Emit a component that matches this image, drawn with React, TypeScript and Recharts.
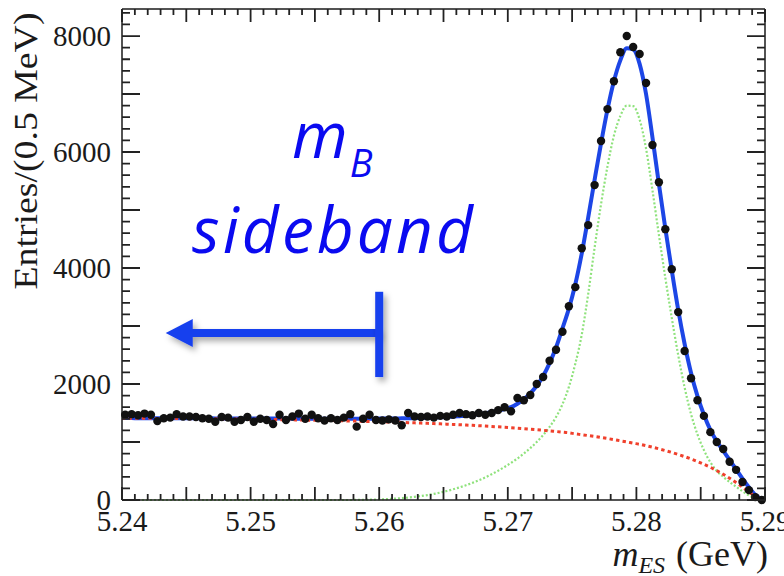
import { ComposedChart, Line, Scatter, XAxis, YAxis, ReferenceLine } from "recharts";

const X_MIN = 5.24;
const X_MAX = 5.29;
const Y_MAX = 8466;
const BIN_WIDTH = 0.0005; // 0.5 MeV

const X_LABELS = [5.24, 5.25, 5.26, 5.27, 5.28, 5.29];
const Y_LABELS = [0, 2000, 4000, 6000, 8000];

// ticks toutes les 1 MeV et 200 entrées (les grandes tous les 5 MeV / 1000)
const X_TICKS = Array.from({ length: 51 }, (_, i) => +(X_MIN + i * 0.001).toFixed(3));
const Y_TICKS = Array.from({ length: 43 }, (_, i) => i * 200);

// données (100 bins de 0.5 MeV)
const ENTRIES = [
  1470, 1480, 1460, 1490, 1470, 1360, 1410, 1420, 1480, 1440,
  1440, 1430, 1410, 1400, 1350, 1430, 1420, 1350, 1380, 1430,
  1350, 1400, 1380, 1310, 1470, 1380, 1440, 1490, 1400, 1470,
  1410, 1370, 1410, 1380, 1420, 1480, 1265, 1400, 1470, 1380,
  1370, 1390, 1370, 1290, 1500, 1440, 1430, 1440, 1420, 1450,
  1440, 1470, 1500, 1480, 1460, 1500, 1470, 1500, 1550, 1600,
  1530, 1760, 1720, 1810, 2000, 2120, 2400, 2590, 2900, 3340,
  3670, 4340, 4740, 5430, 6190, 6740, 7220, 7720, 8000, 7810,
  7690, 7190, 6120, 5480, 4670, 3980, 3240, 2570, 2100, 1720,
  1450, 1170, 1000, 880, 660, 520, 310, 170, 50, 0,
];

// ajustement total (bleu), aux centres des bins
const TOTAL_FIT = [
  1412, 1412, 1411, 1411, 1411, 1410, 1410, 1410, 1409, 1409,
  1409, 1408, 1408, 1408, 1407, 1407, 1407, 1406, 1406, 1406,
  1405, 1405, 1405, 1404, 1404, 1404, 1403, 1403, 1403, 1403,
  1402, 1402, 1402, 1402, 1402, 1402, 1402, 1402, 1403, 1403,
  1404, 1405, 1406, 1408, 1410, 1412, 1415, 1418, 1422, 1427,
  1432, 1438, 1445, 1453, 1466, 1480, 1495, 1515, 1540, 1568,
  1600, 1660, 1740, 1840, 1970, 2140, 2360, 2630, 2960, 3300,
  3720, 4250, 4870, 5520, 6150, 6730, 7220, 7580, 7790, 7770,
  7520, 7000, 6250, 5450, 4680, 3960, 3280, 2690, 2190, 1790,
  1470, 1210, 1010, 850, 690, 530, 370, 220, 90, 10,
];

// fond combinatoire (rouge, type ARGUS)
const BKG_FIT = [
  1410, 1410, 1409, 1409, 1408, 1407, 1407, 1406, 1405, 1404,
  1403, 1402, 1401, 1400, 1399, 1398, 1397, 1396, 1395, 1394,
  1392, 1391, 1389, 1388, 1386, 1384, 1382, 1380, 1378, 1376,
  1374, 1372, 1370, 1367, 1365, 1362, 1360, 1357, 1354, 1351,
  1348, 1345, 1341, 1338, 1334, 1330, 1326, 1322, 1318, 1313,
  1308, 1303, 1298, 1293, 1287, 1281, 1275, 1268, 1261, 1254,
  1246, 1238, 1230, 1221, 1212, 1202, 1192, 1181, 1170, 1158,
  1140, 1126, 1111, 1095, 1078, 1060, 1041, 1021, 1001, 980,
  960, 936, 910, 882, 852, 820, 785, 748, 708, 664,
  616, 564, 506, 443, 374, 300, 222, 140, 64, 8,
];

// signal (vert)
const SIG_FIT = [
  0, 0, 0, 0, 0, 0, 0, 0, 0, 0,
  0, 0, 0, 0, 0, 0, 0, 0, 0, 0,
  0, 0, 0, 0, 0, 0, 0, 0, 0, 0,
  0, 0, 0, 0, 0, 0, 2, 4, 6, 9,
  13, 18, 24, 32, 42, 54, 68, 85, 105, 128,
  155, 185, 218, 255, 295, 340, 390, 445, 505, 570,
  640, 715, 800, 895, 1000, 1120, 1260, 1430, 1650, 1950,
  2350, 2850, 3550, 4350, 5100, 5750, 6280, 6620, 6800, 6790,
  6560, 6060, 5340, 4570, 3830, 3140, 2500, 1940, 1480, 1130,
  860, 650, 500, 400, 310, 230, 150, 80, 28, 3,
];
// valeurs des courbes aux bords 5.24 / 5.29
const TOTAL_EDGES = [1412, 0];
const BKG_EDGES = [1411, 0];
const SIG_EDGES = [0, 0];

// flèche "sideband"
const SIDEBAND_EDGE = 5.26;
const ARROW_TIP = 5.2434;
const ARROW_Y = 2880;
const BAR_RANGE = [2120, 3590];

const ARROW_COLOR = "#1840ee";
const TEXT_BLUE = "#0a0af0";
const INK = "#1a1a1a";
const SERIF = "'Liberation Serif', 'DejaVu Serif', serif";

// cadre du tracé (marges du ComposedChart)
const W = 784;
const H = 576;
const MARGIN = { top: 8, right: 18, bottom: 0, left: 0 };
const Y_AXIS_W = 122;
const X_AXIS_H = 76;
const PLOT = {
  left: MARGIN.left + Y_AXIS_W,
  right: W - MARGIN.right - 1,
  top: MARGIN.top + 1,
  bottom: H - MARGIN.bottom - X_AXIS_H,
};
const px = (v: number) => PLOT.left + ((v - X_MIN) / (X_MAX - X_MIN)) * (PLOT.right - PLOT.left);
const py = (v: number) => PLOT.bottom - (v / Y_MAX) * (PLOT.bottom - PLOT.top);

const binCenters = ENTRIES.map((_, i) => +(X_MIN + BIN_WIDTH * (i + 0.5)).toFixed(5));
const points = ENTRIES.map((v, i) => ({ x: binCenters[i], y: v }));
const curveX = [X_MIN, ...binCenters, X_MAX];
const curves = curveX.map((x, i) => ({
  x,
  total: [TOTAL_EDGES[0], ...TOTAL_FIT, TOTAL_EDGES[1]][i],
  bkg: [BKG_EDGES[0], ...BKG_FIT, BKG_EDGES[1]][i],
  sig: [SIG_EDGES[0], ...SIG_FIT, SIG_EDGES[1]][i],
}));

const isMul = (v: number, step: number) => Math.abs(v / step - Math.round(v / step)) < 1e-6;

function BottomLabel({ x, y, payload }: any) {
  return (
    <text x={x} y={y + 31} textAnchor="middle" fontFamily={SERIF} fontSize={29} fill={INK}>
      {payload.value.toFixed(2)}
    </text>
  );
}

function LeftLabel({ x, y, payload }: any) {
  return (
    <text x={x - 11} y={y} dy="0.36em" textAnchor="end" fontFamily={SERIF} fontSize={29} fill={INK}>
      {payload.value}
    </text>
  );
}

// filtre en unités absolues : une ligne verticale a une bbox de largeur nulle
function ShadowDefs({ id }: { id: string }) {
  return (
    <defs>
      <filter id={id} filterUnits="userSpaceOnUse" x="0" y="0" width="784" height="576">
        <feDropShadow dx="3" dy="4" stdDeviation="3" floodColor="#000" floodOpacity="0.35" />
      </filter>
    </defs>
  );
}

function ArrowShape(props: any) {
  const { x1, y1, x2, y2 } = props;
  const dir = x2 < x1 ? -1 : 1;
  const headLen = 27;
  const headHalf = 14;
  const baseX = x2 - dir * headLen;
  return (
    <g>
      <ShadowDefs id="arrowShadow" />
      <g filter="url(#arrowShadow)">
        <path d={`M${x1},${y1}H${baseX + dir * 2}`} stroke={ARROW_COLOR} strokeWidth={8} fill="none" />
        <polygon
          points={`${x2},${y2} ${baseX},${y2 - headHalf} ${baseX},${y2 + headHalf}`}
          fill={ARROW_COLOR}
        />
      </g>
    </g>
  );
}

function BarShape(props: any) {
  const { x1, y1, y2 } = props;
  return (
    <g>
      <ShadowDefs id="barShadow" />
      <rect
        x={x1 - 4}
        y={Math.min(y1, y2)}
        width={8}
        height={Math.abs(y2 - y1)}
        fill={ARROW_COLOR}
        filter="url(#barShadow)"
      />
    </g>
  );
}

// traits intérieurs sur les quatre côtés du cadre
function FrameTicks() {
  const segs: string[] = [];
  X_TICKS.forEach((v) => {
    const len = isMul(v, 0.005) ? 13 : 6;
    const x = px(v);
    segs.push(`M${x},${PLOT.bottom}V${PLOT.bottom - len}`, `M${x},${PLOT.top}V${PLOT.top + len}`);
  });
  Y_TICKS.forEach((v) => {
    const len = isMul(v, 1000) ? 18 : 8;
    const y = py(v);
    segs.push(`M${PLOT.left},${y}H${PLOT.left + len}`, `M${PLOT.right},${y}H${PLOT.right - len}`);
  });
  return <path d={segs.join("")} stroke="#222" strokeWidth={1.8} fill="none" />;
}

export default function App() {
  return (
    <div style={{ position: "absolute", left: 0, top: 0, width: W, height: H, background: "#fff" }}>
      <ComposedChart width={W} height={H} margin={MARGIN}>
        <XAxis
          xAxisId="b"
          type="number"
          dataKey="x"
          domain={[X_MIN, X_MAX]}
          ticks={X_LABELS}
          interval={0}
          height={X_AXIS_H}
          tickSize={0}
          tickMargin={0}
          tickLine={false}
          axisLine={{ stroke: INK, strokeWidth: 1.5 }}
          tick={BottomLabel}
        />
        <XAxis
          xAxisId="t"
          orientation="top"
          type="number"
          dataKey="x"
          domain={[X_MIN, X_MAX]}
          ticks={X_LABELS}
          height={1}
          tickLine={false}
          tick={false}
          axisLine={{ stroke: INK, strokeWidth: 1.5 }}
        />
        <YAxis
          yAxisId="l"
          type="number"
          domain={[0, Y_MAX]}
          ticks={Y_LABELS}
          interval={0}
          width={Y_AXIS_W}
          tickSize={0}
          tickMargin={0}
          tickLine={false}
          axisLine={{ stroke: INK, strokeWidth: 1.5 }}
          tick={LeftLabel}
        />
        <YAxis
          yAxisId="r"
          orientation="right"
          type="number"
          domain={[0, Y_MAX]}
          ticks={Y_LABELS}
          width={1}
          tickLine={false}
          tick={false}
          axisLine={{ stroke: INK, strokeWidth: 1.5 }}
        />

        <Line
          xAxisId="b"
          yAxisId="l"
          data={curves}
          dataKey="sig"
          type="monotone"
          stroke="#8fe27c"
          strokeWidth={2.2}
          strokeDasharray="2 2"
          dot={false}
          activeDot={false}
          isAnimationActive={false}
        />
        <Line
          xAxisId="b"
          yAxisId="l"
          data={curves}
          dataKey="total"
          type="monotone"
          stroke="#1d46e6"
          strokeWidth={4}
          dot={false}
          activeDot={false}
          isAnimationActive={false}
        />
        <Scatter
          xAxisId="b"
          yAxisId="l"
          data={points}
          dataKey="y"
          fill="#111"
          shape={(p: any) => <circle cx={p.cx} cy={p.cy} r={4.2} fill="#111" />}
          isAnimationActive={false}
        />
        <Line
          xAxisId="b"
          yAxisId="l"
          data={curves}
          dataKey="bkg"
          type="monotone"
          stroke="#f0402c"
          strokeWidth={3}
          strokeDasharray="3.4 3.2"
          dot={false}
          activeDot={false}
          isAnimationActive={false}
        />

        <ReferenceLine
          xAxisId="b"
          yAxisId="l"
          segment={[{ x: SIDEBAND_EDGE, y: ARROW_Y }, { x: ARROW_TIP, y: ARROW_Y }]}
          shape={ArrowShape}
          ifOverflow="visible"
        />
        <ReferenceLine
          xAxisId="b"
          yAxisId="l"
          segment={[{ x: SIDEBAND_EDGE, y: BAR_RANGE[0] }, { x: SIDEBAND_EDGE, y: BAR_RANGE[1] }]}
          shape={BarShape}
          ifOverflow="visible"
        />
      </ComposedChart>

      <svg width={W} height={H} style={{ position: "absolute", left: 0, top: 0, pointerEvents: "none" }}>
        <FrameTicks />
        <text
          x={37}
          y={151}
          transform="rotate(-90 37 151)"
          textAnchor="middle"
          fontFamily={SERIF}
          fontSize={33}
          fill={INK}
          textLength={277}
          lengthAdjust="spacingAndGlyphs"
        >
          Entries/(0.5 MeV)
        </text>
        <text x={768} y={566} textAnchor="end" fontFamily={SERIF} fontSize={36} fill={INK}>
          <tspan fontStyle="italic">m</tspan>
          <tspan fontStyle="italic" fontSize={24} dy={7}>ES</tspan>
          <tspan dy={-7} dx={11}>(GeV)</tspan>
        </text>
        <text x={292} y={158} fontFamily="'Open Sans', 'Noto Sans', sans-serif" fontStyle="italic" fontSize={64} fill={TEXT_BLUE}>
          m
          <tspan fontSize={38} dy={19} dx={2}>B</tspan>
        </text>
        <text
          x={192}
          y={253}
          fontFamily="'Open Sans', 'Noto Sans', sans-serif"
          fontStyle="italic"
          fontSize={64}
          fill={TEXT_BLUE}
          textLength={281}
        >
          sideband
        </text>
      </svg>
    </div>
  );
}
